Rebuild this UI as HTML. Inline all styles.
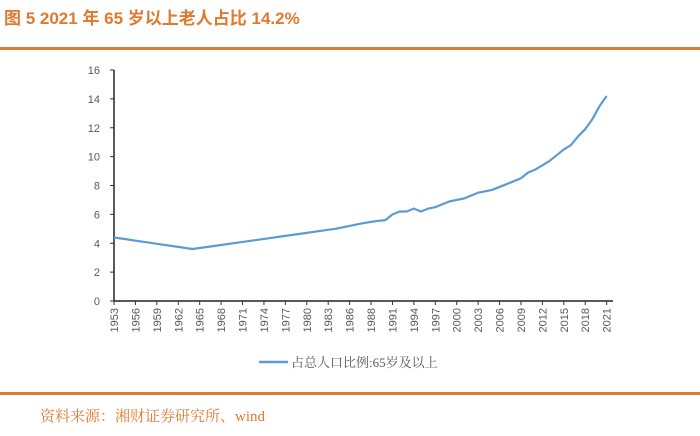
<!DOCTYPE html>
<html><head><meta charset="utf-8"><style>
body{margin:0;background:#fff;width:700px;height:436px;overflow:hidden;position:relative;font-family:"Liberation Sans","Noto Sans CJK SC",sans-serif}
.title{position:absolute;left:4px;top:4px;font-size:17px;font-weight:bold;color:#E07A30}
.rule{position:absolute;left:0;width:700px;height:3px;background:#E07A30}
.src{position:absolute;left:40px;top:405px;font-size:15px;color:#E07A30;font-family:"Liberation Serif","Noto Serif CJK SC",serif}
</style></head><body>
<div class="title">图 5 2021 年 65 岁以上老人占比 14.2%</div>
<div class="rule" style="top:47px"></div>
<svg id="chart" width="700" height="436" style="position:absolute;left:0;top:0"></svg>
<div class="rule" style="top:392px"></div>
<div class="src">资料来源：湘财证券研究所、wind</div>
<script>
const categories=["1953","1954","1955","1956","1957","1958","1959","1960","1961","1962","1963","1964","1965","1966","1967","1968","1969","1970","1971","1972","1973","1974","1975","1976","1977","1978","1979","1980","1981","1982","1983","1984","1985","1986","1987","1987","1988","1989","1990","1991","1992","1993","1994","1995","1996","1997","1998","1999","2000","2001","2002","2003","2004","2005","2006","2007","2008","2009","2010","2011","2012","2013","2014","2015","2016","2017","2018","2019","2020","2021"];
const values=[4.4,4.33,4.26,4.18,4.11,4.04,3.96,3.89,3.82,3.75,3.67,3.6,3.67,3.74,3.81,3.88,3.95,4.02,4.09,4.16,4.23,4.3,4.37,4.44,4.51,4.58,4.65,4.72,4.79,4.86,4.93,5.0,5.1,5.2,5.3,5.4,5.48,5.55,5.6,6.0,6.2,6.2,6.4,6.2,6.4,6.5,6.7,6.9,7.0,7.1,7.3,7.5,7.6,7.7,7.9,8.1,8.3,8.5,8.9,9.1,9.4,9.7,10.1,10.5,10.8,11.4,11.9,12.6,13.5,14.2];
const yTicks=[0,2,4,6,8,10,12,14,16];
const seriesName="占总人口比例:65岁及以上";
const NS="http://www.w3.org/2000/svg",svg=document.getElementById('chart');
const x0=114,xStep=7.14,y0=301,yScale=(301-70)/16;
const X=i=>x0+i*xStep, Y=v=>y0-v*yScale;
function mk(t,a,p){const e=document.createElementNS(NS,t);for(const k in a)e.setAttribute(k,a[k]);(p||svg).appendChild(e);return e;}
yTicks.forEach(v=>{
 const t=mk('text',{x:100,y:Y(v)+4,'text-anchor':'end','font-size':11,fill:'#595959','font-family':'Liberation Sans,sans-serif'});
 t.textContent=v;
 
 
 const tk=mk('line',{x1:110,x2:114,y1:Y(v),y2:Y(v),stroke:'#333','stroke-width':1});
 
 
});
const ya=mk('line',{x1:114,x2:114,y1:Y(16),y2:y0,stroke:'#222','stroke-width':1.5});


const xa=mk('line',{x1:114,x2:613,y1:y0,y2:y0,stroke:'#222','stroke-width':1.5});


categories.forEach((c,i)=>{
 if(i%3) return;
 const tk=mk('line',{x1:X(i),x2:X(i),y1:y0,y2:y0+4,stroke:'#333','stroke-width':1});
 
 
 const t=mk('text',{x:0,y:0,'text-anchor':'end','font-size':11,fill:'#595959','font-family':'Liberation Sans,sans-serif',transform:`translate(${X(i)+4},${y0+7}) rotate(-90)`});
 t.textContent=c;
 
 
});
const ln=mk('polyline',{points:values.map((v,i)=>X(i)+','+Y(v)).join(' '),fill:'none',stroke:'#5B9BD5','stroke-width':2.2,'stroke-linejoin':'round'});


const g=mk('g',{});


mk('line',{x1:259,x2:288,y1:362,y2:362,stroke:'#5B9BD5','stroke-width':2.5},g);
const lt=mk('text',{x:291,y:367,'font-size':13,fill:'#595959','font-family':'Liberation Serif,Noto Serif CJK SC,serif'},g);
lt.textContent=seriesName;
</script>
</body></html>
